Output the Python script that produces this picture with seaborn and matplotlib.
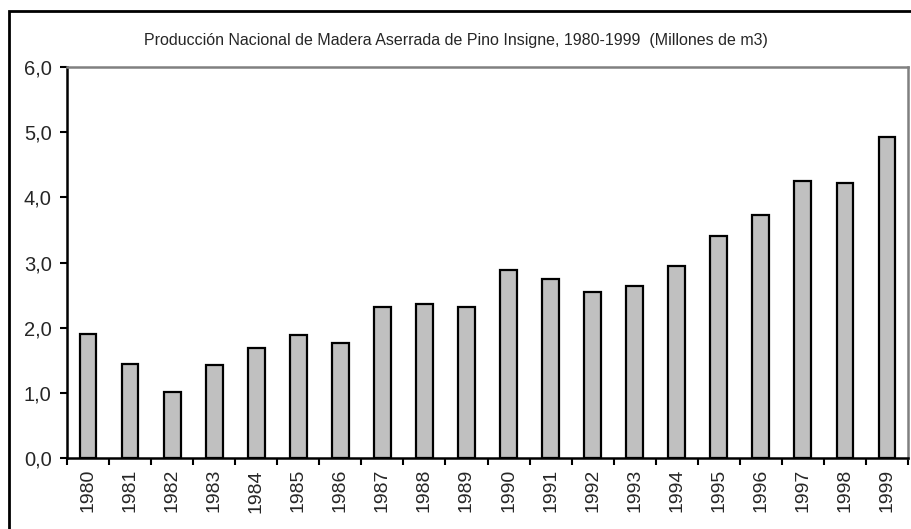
import matplotlib
matplotlib.use("Agg")
import matplotlib.pyplot as plt
import matplotlib.ticker as mticker
from matplotlib.patches import Rectangle
import seaborn as sns
import pandas as pd

# Producción nacional de madera aserrada de pino insigne (millones de m3)
years = [str(y) for y in range(1980, 2000)]
produccion = [1.90, 1.45, 1.02, 1.42, 1.69, 1.88, 1.76, 2.31, 2.37, 2.31,
              2.89, 2.74, 2.55, 2.64, 2.94, 3.40, 3.73, 4.25, 4.22, 4.93]

df = pd.DataFrame({'anio': years, 'prod': produccion})

sns.set_style("white")
plt.rcParams['font.family'] = ['Liberation Sans', 'DejaVu Sans']

fig = plt.figure(figsize=(9.12, 5.29), dpi=100)
ax = fig.add_axes([67/912, 1 - 458/529, (908-67)/912, (458-67)/529])

sns.barplot(data=df, x='anio', y='prod', color='#c0c0c0', saturation=1,
            edgecolor='black', linewidth=1.6, width=0.4, ax=ax)

ax.set_ylim(0, 6)
ax.set_xlim(-0.5, len(years) - 0.5)
ax.yaxis.set_major_locator(mticker.MultipleLocator(1))
ax.yaxis.set_major_formatter(mticker.FuncFormatter(lambda v, p: f"{v:.1f}".replace('.', ',')))

# ticks between categories, labels at the centres
ax.set_xticks([i - 0.5 for i in range(len(years) + 1)])
ax.set_xticklabels([])
ax.set_xticks(range(len(years)), minor=True)
ax.set_xticklabels(years, minor=True, rotation=90, fontsize=14)
ax.tick_params(axis='x', which='major', direction='out', length=5, width=1.5, color='black', bottom=True)
ax.tick_params(axis='x', which='minor', length=0, pad=8, bottom=True)
ax.tick_params(axis='y', direction='out', length=5, width=1.5, color='black', labelsize=14.5, pad=6, left=True)

ax.set_xlabel('')
ax.set_ylabel('')
for s in ['left', 'bottom']:
    ax.spines[s].set_color('black')
    ax.spines[s].set_linewidth(1.8)
for s in ['top', 'right']:
    ax.spines[s].set_color('#808080')
    ax.spines[s].set_linewidth(1.8)

fig.text(0.5, 1 - 40/529, "Producción Nacional de Madera Aserrada de Pino Insigne, 1980-1999  (Millones de m3)",
         ha='center', va='center', fontsize=11.5)

# outer frame
fig.patches.append(Rectangle((9/912, -0.05), 1.2, 1 - 11/529 + 0.05, transform=fig.transFigure,
                             fill=False, edgecolor='black', linewidth=2, clip_on=False))

fig.savefig('out.png', dpi=100)
